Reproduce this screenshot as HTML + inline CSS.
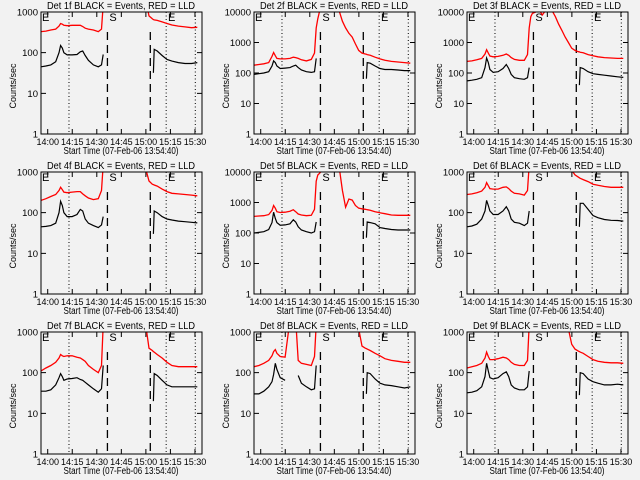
<!DOCTYPE html>
<html><head><meta charset="utf-8"><style>
html,body{margin:0;padding:0;background:#f2f2f2;}
svg{display:block;font-family:"Liberation Sans",sans-serif;}
</style></head><body>
<svg id="chart" width="640" height="480" viewBox="0 0 640 480" xmlns="http://www.w3.org/2000/svg">
<rect x="0" y="0" width="640" height="480" fill="#f2f2f2"/>
</svg>
<script>
const n = null;
const timeGrid = [0,3,6,9,11,12,13,14,16,19,22,24,25.5,27,29,32,35,37,38,39,40,42,44,46,48,50,52,54,56,58,60,62,64,66,68,68.7,69.2,71,74,77,80,84,88,92,95.5];
const black1 = [45,47,50,60,100,150,130,100,88,88,90,105,110,85,65,50,45,50,90,n,n,n,n,n,n,n,n,n,n,n,n,n,n,n,n,32,120,110,85,68,62,57,54,54,57];
const red1 = [330,340,360,380,450,520,500,470,460,470,470,470,440,400,380,360,330,380,1500,n,n,n,n,n,n,n,n,n,n,n,n,n,2000,800,680,650,640,620,570,520,480,450,430,410,420];
const black2 = [90,95,100,110,170,250,220,170,140,145,150,170,180,150,125,110,105,110,300,n,n,n,n,n,n,n,n,n,n,n,n,n,n,n,n,65,220,210,170,140,130,130,125,120,120];
const red2 = [180,190,200,220,350,470,370,300,290,290,300,330,320,300,270,250,280,450,3000,6000,10000,12000,12000,12000,12000,12000,11000,5000,3000,2000,1500,900,550,450,420,410,400,380,330,290,260,240,230,220,210];
const black3 = [55,58,62,70,150,310,220,130,105,110,140,190,140,90,70,65,62,70,150,n,n,n,n,n,n,n,n,n,n,n,n,n,n,n,n,40,150,140,110,95,90,85,80,75,72];
const red3 = [240,250,270,300,420,580,450,360,340,350,380,420,380,320,280,260,260,400,3000,7000,9000,10000,12000,8000,11000,12000,11000,7000,4000,2500,1500,1000,650,550,500,490,480,460,400,370,340,320,310,300,300];
const black4 = [45,46,48,55,100,190,150,100,80,80,90,120,110,70,55,48,43,50,80,n,n,n,n,n,n,n,n,n,n,n,n,n,n,n,n,30,110,100,80,70,66,62,60,58,56];
const red4 = [200,220,250,280,350,420,370,320,310,320,330,330,290,260,230,210,220,350,1500,n,n,n,n,n,n,n,n,n,n,n,n,n,1200,600,500,490,480,450,380,330,300,290,280,270,260];
const black5 = [100,105,110,130,220,480,300,220,180,185,200,270,230,160,125,110,100,110,230,n,n,n,n,n,n,n,n,n,n,n,n,n,n,n,n,70,230,220,200,150,140,130,125,125,125];
const red5 = [350,360,370,400,550,800,650,500,470,480,520,580,500,420,390,370,380,600,5000,8000,9000,12000,12000,12000,12000,12000,15000,2500,700,1300,1200,800,650,620,600,590,580,560,500,460,430,390,380,380,380];
const black6 = [45,47,52,70,110,200,150,110,90,90,110,140,110,70,58,55,48,55,110,n,n,n,n,n,n,n,n,n,n,n,n,n,n,n,n,45,170,170,120,85,75,68,65,64,62];
const red6 = [280,290,310,340,420,550,460,390,380,380,420,430,390,340,300,290,270,350,1500,n,n,n,n,n,n,n,n,n,n,n,n,n,1100,850,750,720,700,650,580,500,470,440,420,420,420];
const black7 = [35,35,38,50,75,95,80,65,70,72,75,68,65,58,50,40,33,40,150,n,n,n,n,n,n,n,n,n,n,n,n,n,n,n,n,20,95,85,65,50,45,45,45,45,45];
const red7 = [110,130,150,180,230,280,260,250,260,260,240,230,210,190,150,120,100,150,1500,n,n,n,n,n,n,n,n,n,n,n,n,n,1500,400,350,330,320,280,230,180,150,140,140,140,140];
const black8 = [30,30,35,45,60,90,170,120,75,65,n,n,n,85,55,45,38,40,150,n,n,n,n,n,n,n,n,n,n,n,n,n,n,n,n,30,100,95,70,55,50,48,45,42,45];
const red8 = [140,150,170,200,260,330,370,300,250,240,2000,n,2000,200,170,160,150,250,1500,n,n,n,n,n,n,n,n,n,n,n,n,n,1200,450,400,390,380,350,300,260,220,200,190,180,180];
const black9 = [32,33,36,45,80,170,110,75,70,75,95,105,80,50,42,38,38,45,110,n,n,n,n,n,n,n,n,n,n,n,n,n,n,n,n,28,100,95,70,60,55,50,50,52,50];
const red9 = [130,140,150,170,230,320,250,210,210,220,240,230,210,180,160,150,150,200,1500,n,n,n,n,n,n,n,n,n,n,n,n,1200,500,380,340,330,320,300,250,210,190,180,175,175,170];
const blackSeries = [black1,black2,black3,black4,black5,black6,black7,black8,black9];
const redSeries = [red1,red2,red3,red4,red5,red6,red7,red8,red9];
const panelDecades = [3,4,4,3,4,3,3,3,3];
const detectorNames = ["1f","2f","3f","4f","5f","6f","7f","8f","9f"];
const xTickTimes = [4.1,19.1,34.1,49.1,64.1,79.1,94.1];
const xTickLabels = ["14:00","14:15","14:30","14:45","15:00","15:15","15:30"];
const dottedTimes = [17.1,76.5,94.3];
const dashedTimes = [40.6,66.8];
const markerTimes = [0.6,41.8,77.6];
const markerLabels = ["E","S","E"];
const tMax = 98.4;

const svg = document.getElementById('chart');
const NS = 'http://www.w3.org/2000/svg';
function mk(tag, attrs, parent){
  const e = document.createElementNS(NS, tag);
  for (const k in attrs) e.setAttribute(k, attrs[k]);
  parent.appendChild(e);
  return e;
}
const defs = mk('defs', {}, svg);

for (let p = 0; p < 9; p++){
  const ox = (p % 3) * 213, oy = Math.floor(p / 3) * 160;
  const x0 = ox + 41, x1 = ox + 202, y0 = oy + 12, y1 = oy + 134;
  const dec = panelDecades[p];
  const xs = t => x0 + t * (x1 - x0) / tMax;
  const ys = v => y1 - Math.log10(v) / dec * (y1 - y0);

  const g = mk('g', {}, svg);
  
  

  const cp = mk('clipPath', {id: 'clip' + p}, defs);
  mk('rect', {x: x0, y: y0, width: x1 - x0, height: y1 - y0}, cp);

  const title = mk('text', {x: ox + 121, y: oy + 9, 'font-size': 10, 'text-anchor': 'middle', textLength: 148, lengthAdjust: 'spacingAndGlyphs', fill: '#000'}, g);
  title.textContent = 'Det ' + detectorNames[p] + ' BLACK = Events, RED = LLD';
  
  

  const yl = mk('text', {x: 0, y: 0, 'font-size': 9, 'text-anchor': 'middle', fill: '#000', transform: 'translate(' + (ox + 16) + ',' + (oy + 86) + ') rotate(-90)'}, g);
  yl.textContent = 'Counts/sec';
  
  

  const xl = mk('text', {x: ox + 121, y: oy + 154, 'font-size': 10, 'text-anchor': 'middle', textLength: 115, lengthAdjust: 'spacingAndGlyphs', fill: '#000'}, g);
  xl.textContent = 'Start Time (07-Feb-06 13:54:40)';
  
  

  for (let d = 0; d <= dec; d++){
    const v = Math.pow(10, d), y = ys(v);
    const tk = mk('path', {d: 'M' + x0 + ' ' + y + 'h5M' + x1 + ' ' + y + 'h-5', stroke: '#000', 'stroke-width': 1}, g);
    
    
    const lb = mk('text', {x: x0 - 3, y: y + 3.5, 'font-size': 9.5, 'text-anchor': 'end', fill: '#000'}, g);
    lb.textContent = String(v);
    
    
  }
  xTickTimes.forEach((t, i) => {
    const x = xs(t);
    const tk = mk('path', {d: 'M' + x + ' ' + y1 + 'v-5M' + x + ' ' + y0 + 'v5', stroke: '#000', 'stroke-width': 1}, g);
    
    
    const lb = mk('text', {x: x, y: y1 + 11, 'font-size': 9, 'text-anchor': 'middle', fill: '#000'}, g);
    lb.textContent = xTickLabels[i];
    
    
  });

  dottedTimes.forEach(t => {
    const l = mk('line', {x1: xs(t), x2: xs(t), y1: y0, y2: y1, stroke: '#000', 'stroke-width': 1, 'stroke-dasharray': '1 2.5'}, g);
    
    
  });
  dashedTimes.forEach(t => {
    const l = mk('line', {x1: xs(t), x2: xs(t), y1: y0 + 20, y2: y1, stroke: '#000', 'stroke-width': 1.3, 'stroke-dasharray': '8 5'}, g);
    
    
  });
  markerTimes.forEach((t, i) => {
    const lb = mk('text', {x: xs(t), y: y0 + 9, 'font-size': 11, fill: '#000'}, g);
    lb.textContent = markerLabels[i];
    
    
  });

  function pathFor(vals){
    let d = '', pen = false;
    vals.forEach((v, i) => {
      if (v === null){ pen = false; return; }
      d += (pen ? 'L' : 'M') + xs(timeGrid[i]).toFixed(1) + ' ' + ys(v).toFixed(1);
      pen = true;
    });
    return d;
  }
  const rp = mk('path', {d: pathFor(redSeries[p]), fill: 'none', stroke: '#ff0000', 'stroke-width': 1.3, 'clip-path': 'url(#clip' + p + ')'}, g);
  
  
  const bp = mk('path', {d: pathFor(blackSeries[p]), fill: 'none', stroke: '#000', 'stroke-width': 1.2, 'clip-path': 'url(#clip' + p + ')'}, g);
  
  

  const box = mk('rect', {x: x0, y: y0, width: x1 - x0, height: y1 - y0, fill: 'none', stroke: '#000', 'stroke-width': 1}, g);
  
  
}
</script>
</body></html>
